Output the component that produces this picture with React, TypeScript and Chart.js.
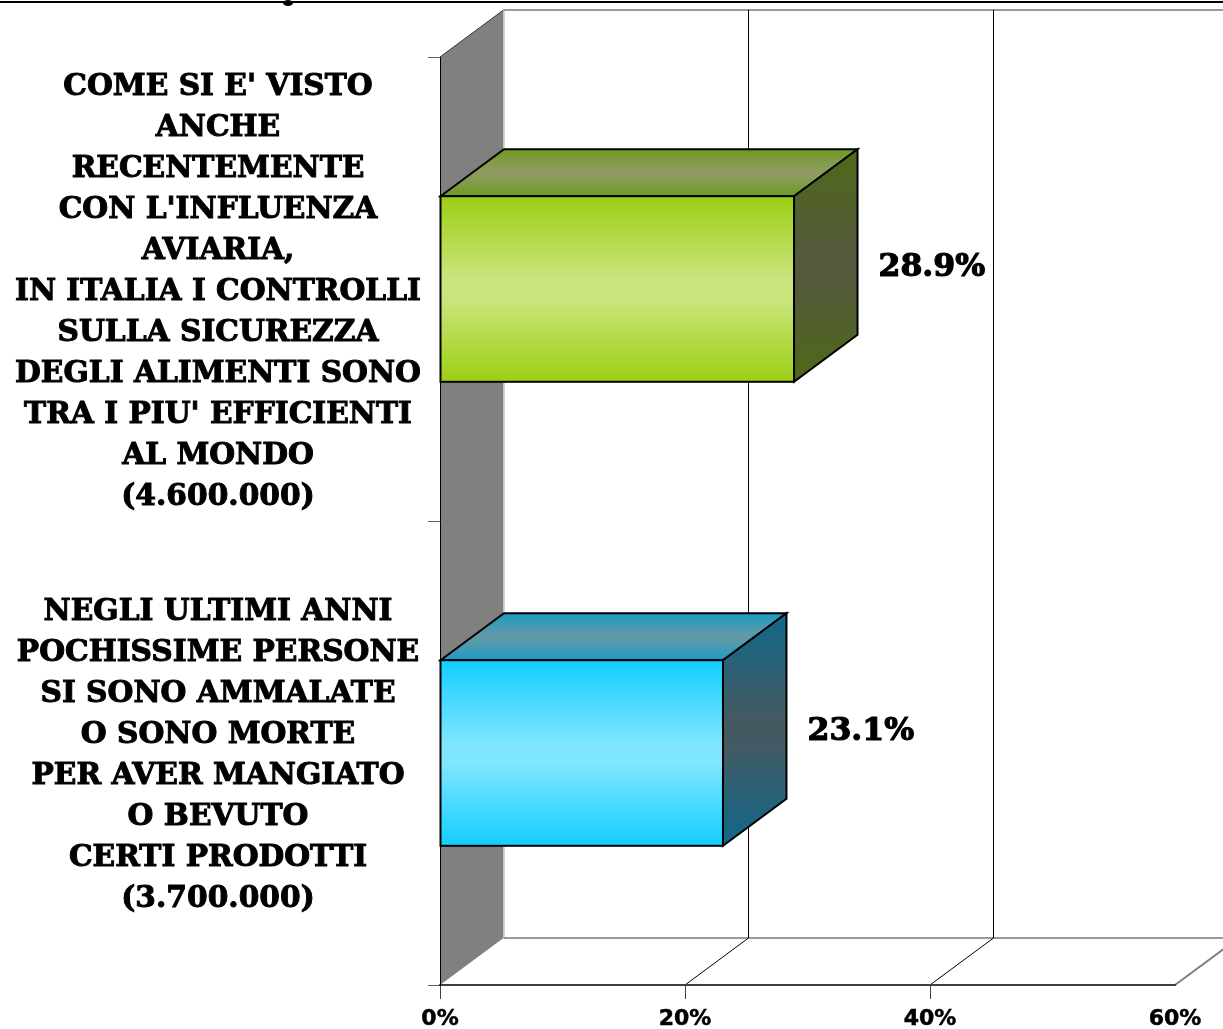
import React, { useEffect, useRef } from "react";
import { Chart, registerables } from "chart.js";

Chart.register(...registerables);

const categories: string[][] = [
  [
    "COME SI E' VISTO",
    "ANCHE",
    "RECENTEMENTE",
    "CON L'INFLUENZA",
    "AVIARIA,",
    "IN ITALIA I CONTROLLI",
    "SULLA SICUREZZA",
    "DEGLI ALIMENTI SONO",
    "TRA I PIU' EFFICIENTI",
    "AL MONDO",
    "(4.600.000)",
  ],
  [
    "NEGLI ULTIMI ANNI",
    "POCHISSIME PERSONE",
    "SI SONO AMMALATE",
    "O SONO MORTE",
    "PER AVER MANGIATO",
    "O BEVUTO",
    "CERTI PRODOTTI",
    "(3.700.000)",
  ],
];
const values: number[] = [28.9, 23.1];
const frontEdge = ["#9BCF14", "#13CDFF"];
const frontMid = ["#CBE57E", "#80E6FF"];
const topEdge = ["#6F9A22", "#1A9CC4"];
const topMid = ["#8E9C60", "#6099A8"];
const sideEdge = ["#4F6818", "#10688A"];
const sideMid = ["#545A3C", "#445A62"];

const DX = 63.5;
const DY = 47;
const WALL_GRAY = "#808080";
const SERIF = "'DejaVu Serif', serif";
const SANS = "'DejaVu Sans', sans-serif";

function grad(ctx: CanvasRenderingContext2D, y0: number, y1: number, edge: string, mid: string) {
  const g = ctx.createLinearGradient(0, y0, 0, y1);
  g.addColorStop(0, edge);
  g.addColorStop(0.45, mid);
  g.addColorStop(0.55, mid);
  g.addColorStop(1, edge);
  return g;
}

function poly(ctx: CanvasRenderingContext2D, pts: number[][], fill: any, stroke?: string) {
  ctx.beginPath();
  pts.forEach((p, i) => (i ? ctx.lineTo(p[0], p[1]) : ctx.moveTo(p[0], p[1])));
  ctx.closePath();
  if (fill) {
    ctx.fillStyle = fill;
    ctx.fill();
  }
  if (stroke) {
    ctx.strokeStyle = stroke;
    ctx.stroke();
  }
}

function line(ctx: CanvasRenderingContext2D, x0: number, y0: number, x1: number, y1: number, color: string, w: number) {
  ctx.beginPath();
  ctx.moveTo(x0, y0);
  ctx.lineTo(x1, y1);
  ctx.strokeStyle = color;
  ctx.lineWidth = w;
  ctx.stroke();
}

const box3d = {
  id: "box3d",
  beforeDraw(chart: any) {
    const { ctx, scales, chartArea, width } = chart;
    const { left, right, top, bottom } = chartArea;
    ctx.save();
    // rule across the very top with the clipped remains of the slide title
    ctx.fillStyle = "#000";
    ctx.fillRect(0, 1, width, 2);
    ctx.beginPath();
    ctx.ellipse(288, 3, 5, 3, 0, 0, Math.PI * 2);
    ctx.fill();
    // side wall
    poly(ctx, [[left, top], [left + DX, top - DY], [left + DX, bottom - DY], [left, bottom]], WALL_GRAY);
    line(ctx, left, top, left + DX, top - DY, "#333", 1);
    line(ctx, left + DX + 0.5, top - DY, left + DX + 0.5, bottom - DY, "#C8C8C8", 1.5);
    // back wall top and floor edges
    line(ctx, left + DX, top - DY, width + 2, top - DY, "#999", 2);
    line(ctx, left + DX, bottom - DY, width + 2, bottom - DY, "#999", 2);
    // grid
    const xs = scales.x;
    xs.ticks.forEach((t: any) => {
      const px = xs.getPixelForValue(t.value);
      if (t.value === 0) return;
      if (px < right) {
        line(ctx, Math.floor(px + DX) + 0.5, top - DY, Math.floor(px + DX) + 0.5, bottom - DY, "#000", 1);
        line(ctx, px, bottom, px + DX, bottom - DY, "#000", 1);
      } else {
        line(ctx, px, bottom, px + DX, bottom - DY, "#808080", 2);
      }
    });
    ctx.restore();
  },
  beforeDatasetsDraw(chart: any) {
    const { ctx } = chart;
    const meta = chart.getDatasetMeta(0);
    ctx.save();
    ctx.lineWidth = 2;
    ctx.lineJoin = "miter";
    meta.data.forEach((bar: any, i: number) => {
      const { x, y, base, height } = bar.getProps(["x", "y", "base", "height"], true);
      const y0 = y - height / 2;
      const y1 = y + height / 2;
      poly(
        ctx,
        [[base, y0], [base + DX, y0 - DY], [x + DX, y0 - DY], [x, y0]],
        grad(ctx, y0 - DY, y0, topEdge[i], topMid[i]),
        "#000"
      );
      poly(
        ctx,
        [[x, y0], [x + DX, y0 - DY], [x + DX, y1 - DY], [x, y1]],
        grad(ctx, y0 - DY, y1, sideEdge[i], sideMid[i]),
        "#000"
      );
    });
    ctx.restore();
  },
  afterDatasetsDraw(chart: any) {
    const { ctx } = chart;
    const meta = chart.getDatasetMeta(0);
    ctx.save();
    meta.data.forEach((bar: any, i: number) => {
      const { x, y, base, height } = bar.getProps(["x", "y", "base", "height"], true);
      ctx.lineWidth = 2;
      ctx.strokeStyle = "#000";
      ctx.strokeRect(base, y - height / 2, x - base, height);
      ctx.fillStyle = "#000";
      ctx.font = `bold 31.5px ${SERIF}`;
      ctx.textAlign = "left";
      ctx.textBaseline = "middle";
      const label = values[i].toFixed(1) + "%";
      ctx.lineWidth = 1.2;
      ctx.strokeText(label, x + 84.5, y - 21.5);
      ctx.fillText(label, x + 84.5, y - 21.5);
    });
    ctx.restore();
  },
};

export default function App() {
  const ref = useRef<HTMLCanvasElement>(null);
  useEffect(() => {
    const canvas = ref.current!;
    const chart = new Chart(canvas, {
      type: "bar",
      plugins: [box3d],
      data: {
        labels: categories as any,
        datasets: [
          {
            data: values,
            borderWidth: 0,
            barPercentage: 0.4,
            categoryPercentage: 1,
            backgroundColor: (c: any) => {
              const sc = c.chart.scales.y;
              const i = c.dataIndex ?? 0;
              const cy = sc ? sc.getPixelForValue(i) : NaN;
              const h = sc ? (0.4 * (sc.bottom - sc.top)) / categories.length : NaN;
              if (!Number.isFinite(cy) || !Number.isFinite(h)) return frontEdge[i];
              return grad(c.chart.ctx, cy - h / 2, cy + h / 2, frontEdge[i], frontMid[i]);
            },
          },
        ],
      },
      options: {
        indexAxis: "y",
        responsive: false,
        animation: false,
        layout: { padding: { top: 57, right: 48, left: 0, bottom: 0 } },
        plugins: { legend: { display: false }, tooltip: { enabled: false }, title: { display: false } },
        scales: {
          x: {
            min: 0,
            max: 60,
            afterFit: (s: any) => {
              s.height = 44;
              s.paddingLeft = 0;
              s.paddingRight = 0;
            },
            ticks: {
              stepSize: 20,
              maxRotation: 0,
              color: "#000",
              padding: 7,
              textStrokeColor: "#000",
              textStrokeWidth: 0.5,
              font: { family: SANS, weight: "bold", size: 22 },
              callback: (v: any) => v + "%",
            },
            grid: {
              drawOnChartArea: false,
              tickLength: 14,
              tickColor: (c: any) => (c.tick && c.tick.value === 60 ? "rgba(0,0,0,0)" : "#404040"),
            },
            border: { color: "#404040", width: 2 },
          },
          y: {
            afterFit: (s: any) => {
              s.width = 440;
              s.paddingTop = 0;
              s.paddingBottom = 0;
            },
            ticks: {
              color: "#000",
              crossAlign: "center",
              padding: 7,
              labelOffset: 3,
              textStrokeColor: "#000",
              textStrokeWidth: 1,
              font: { family: SERIF, weight: "bold", size: 29.7, lineHeight: "41px" },
            },
            grid: { drawOnChartArea: false, tickLength: 12, tickColor: "#606060" },
            border: { color: "#000", width: 1 },
          },
        },
      } as any,
    });
    return () => chart.destroy();
  }, []);
  return (
    <div style={{ position: "absolute", left: 0, top: 0, width: 1223, height: 1029, overflow: "hidden", background: "#fff" }}>
      <canvas ref={ref} width={1223} height={1029} style={{ display: "block" }} />
    </div>
  );
}
